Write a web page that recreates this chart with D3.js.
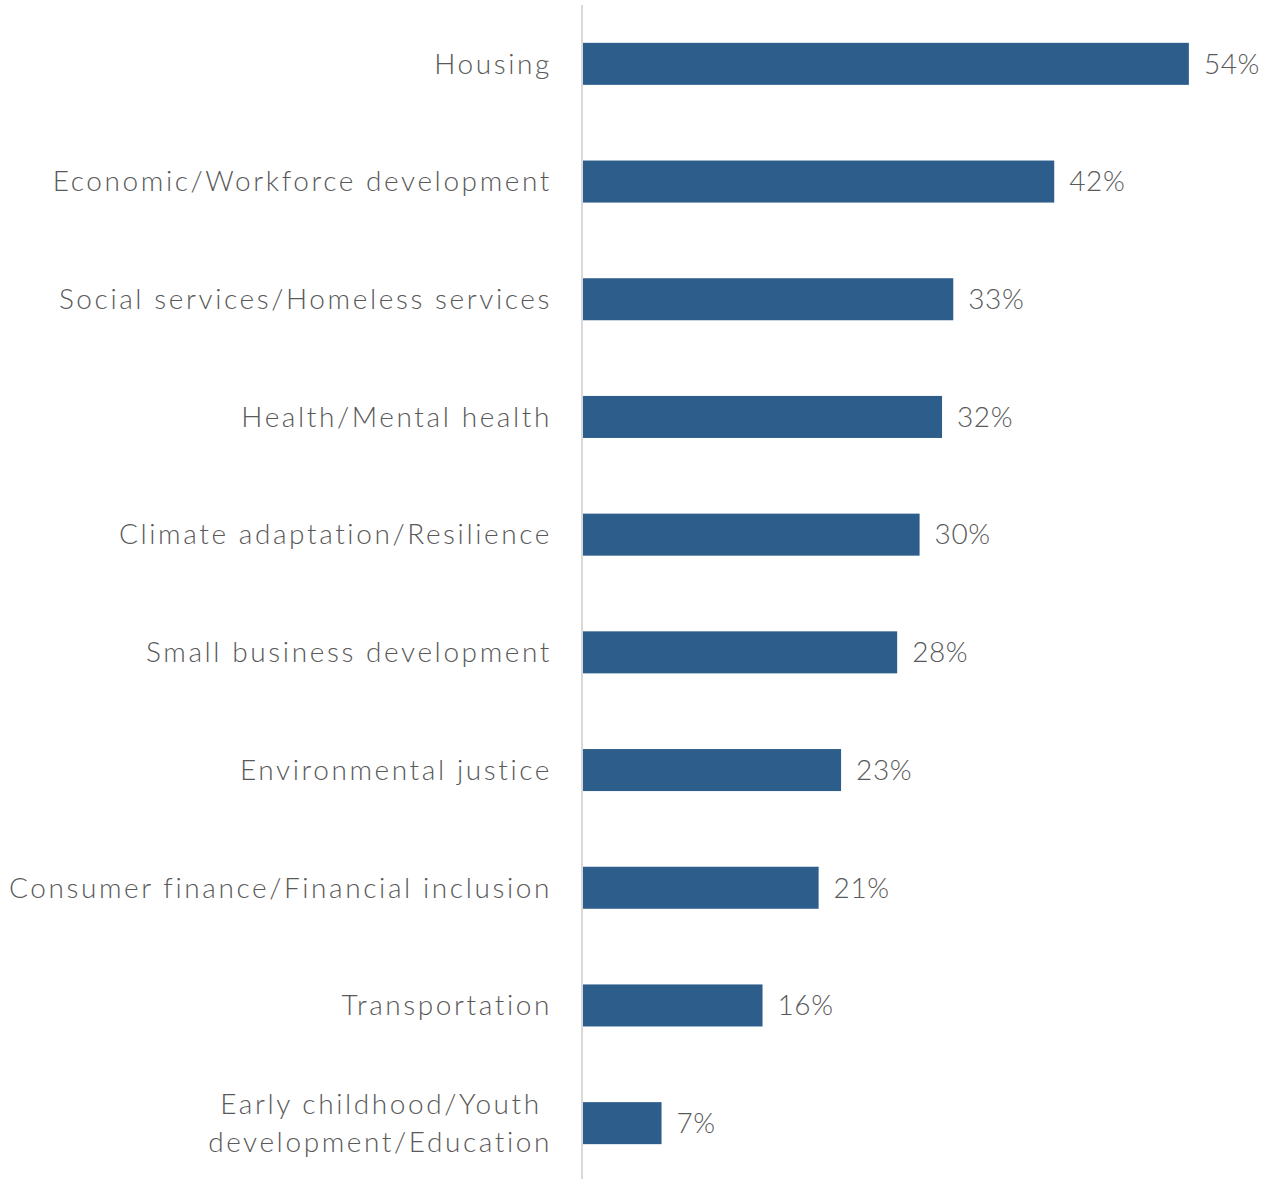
<!DOCTYPE html>
<html>
<head>
<meta charset="utf-8">
<script src="https://cdn.jsdelivr.net/npm/d3@7"></script>
<style>
  body { margin: 0; background: #fff; }
  text { font-family: "Lato", "Open Sans", sans-serif; fill: #595959; }
</style>
</head>
<body>
<script>
// chart data
var categories = [
  "Housing",
  "Economic/Workforce development",
  "Social services/Homeless services",
  "Health/Mental health",
  "Climate adaptation/Resilience",
  "Small business development",
  "Environmental justice",
  "Consumer finance/Financial inclusion",
  "Transportation",
  "Early childhood/Youth development/Education"
];
var values = [54, 42, 33, 32, 30, 28, 23, 21, 16, 7];
// wrapped label lines for the long last category
var labelLines = {
  "Early childhood/Youth development/Education": ["Early childhood/Youth ", "development/Education"]
};

var width = 1271, height = 1179;
var axisX = 583;

var svg = d3.select("body").append("svg")
    .attr("width", width)
    .attr("height", height);

var x = d3.scaleLinear()
    .domain([0, 60])
    .range([axisX, axisX + 60 * 11.22]);

var y = d3.scaleBand()
    .domain(categories)
    .range([5, 1182])
    .paddingInner(0.643)
    .paddingOuter(0.3215);

var data = categories.map(function(c, i) { return {cat: c, value: values[i]}; });

// bars
svg.selectAll(".bar")
    .data(data)
  .enter().append("rect")
    .attr("class", "bar")
    .attr("x", x(0))
    .attr("y", function(d) { return y(d.cat); })
    .attr("width", function(d) { return x(d.value) - x(0); })
    .attr("height", y.bandwidth())
    .style("fill", "#2d5d8b");

// vertical axis line
svg.append("line")
    .attr("x1", axisX - 1).attr("x2", axisX - 1)
    .attr("y1", 5).attr("y2", height)
    .style("stroke", "#d9d9d9")
    .style("stroke-width", 2);

// category labels
var labels = svg.selectAll(".cat")
    .data(data)
  .enter().append("text")
    .attr("class", "cat")
    .attr("x", 552)
    .attr("y", function(d) { return y(d.cat) + y.bandwidth() / 2; })
    .style("text-anchor", "end")
    .style("font-size", "28px")
    .style("font-weight", 300)
    .style("letter-spacing", "2.6px");

labels.each(function(d) {
  var t = d3.select(this);
  var lines = labelLines[d.cat] || [d.cat];
  var start = -(lines.length - 1) * 0.68 + 0.35;
  lines.forEach(function(l, i) {
    t.append("tspan")
      .attr("x", 552)
      .attr("dy", (i === 0 ? start : 1.36) + "em")
      .style("white-space", "pre")
      .text(l);
  });
});

// value labels
svg.selectAll(".val")
    .data(data)
  .enter().append("text")
    .attr("class", "val")
    .attr("x", function(d) { return x(d.value) + 15; })
    .attr("y", function(d) { return y(d.cat) + y.bandwidth() / 2; })
    .attr("dy", "0.35em")
    .style("font-size", "28px")
    .style("font-weight", 300)
    .style("letter-spacing", "0.6px")
    .text(function(d) { return d.value + "%"; });
</script>
</body>
</html>
